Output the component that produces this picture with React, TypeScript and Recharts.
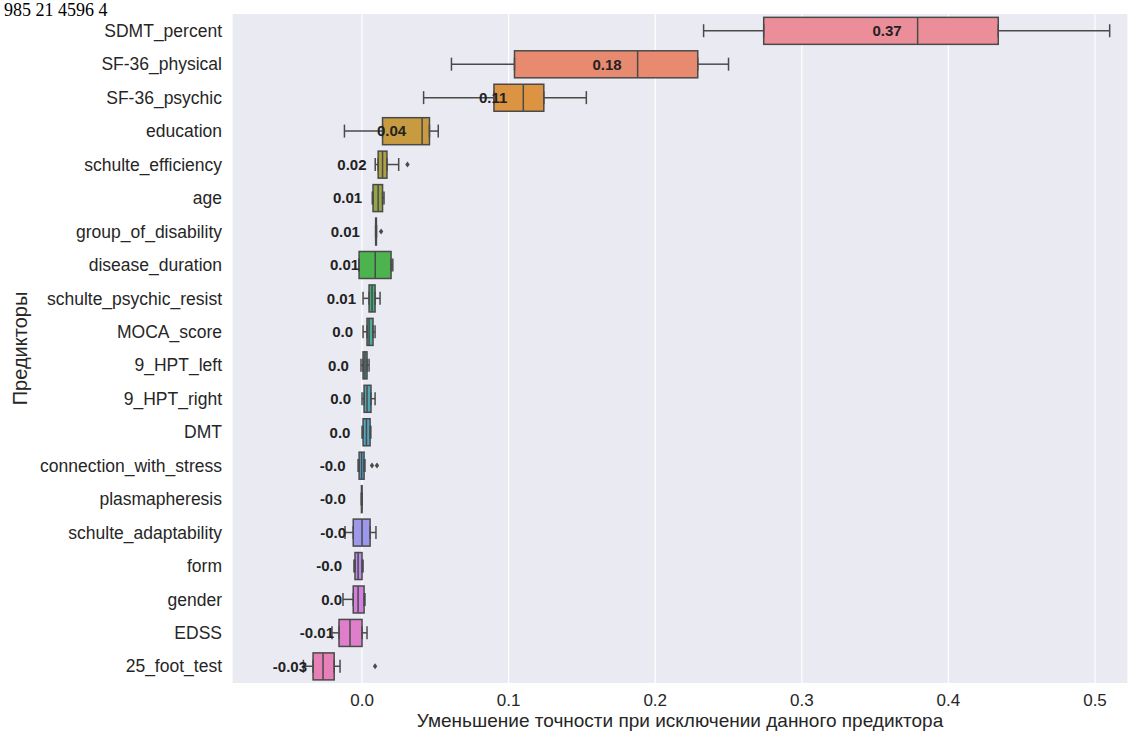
import React from 'react'
import { ComposedChart, Bar, Scatter, ErrorBar, XAxis, YAxis, CartesianGrid } from 'recharts'

// permutation importance, one box per predictor
const categories = [
  'SDMT_percent', 'SF-36_physical', 'SF-36_psychic', 'education', 'schulte_efficiency',
  'age', 'group_of_disability', 'disease_duration', 'schulte_psychic_resist', 'MOCA_score',
  '9_HPT_left', '9_HPT_right', 'DMT', 'connection_with_stress', 'plasmapheresis',
  'schulte_adaptability', 'form', 'gender', 'EDSS', '25_foot_test',
]
const whiskerLow = [
  0.233, 0.061, 0.042, -0.012, 0.009, 0.007, 0.0093, -0.002, 0.0007, 0.0007,
  -0.0007, 0.0, 0.0, -0.0027, -0.0004, -0.0116, -0.0055, -0.013, -0.0205, -0.040,
]
const q1 = [
  0.274, 0.104, 0.090, 0.014, 0.011, 0.0075, 0.0093, -0.002, 0.0048, 0.0034,
  0.0007, 0.0014, 0.0007, -0.002, -0.0004, -0.006, -0.0048, -0.006, -0.0157, -0.0334,
]
const medians = [
  0.379, 0.188, 0.110, 0.041, 0.014, 0.011, 0.0095, 0.009, 0.0068, 0.0048,
  0.002, 0.0034, 0.003, -0.0003, -0.0002, 0.0, -0.0027, -0.0027, -0.0082, -0.0266,
]
const q3 = [
  0.434, 0.229, 0.124, 0.046, 0.017, 0.014, 0.0098, 0.0198, 0.0089, 0.0075,
  0.0034, 0.0061, 0.0055, 0.0014, 0.0, 0.0055, 0.0, 0.0014, 0.0, -0.019,
]
const whiskerHigh = [
  0.510, 0.250, 0.153, 0.052, 0.025, 0.015, 0.0098, 0.021, 0.0123, 0.0089,
  0.0048, 0.0089, 0.006, 0.002, 0.0, 0.0095, 0.0007, 0.002, 0.0034, -0.015,
]
const meanLabels = [
  '0.37', '0.18', '0.11', '0.04', '0.02', '0.01', '0.01', '0.01', '0.01', '0.0',
  '0.0', '0.0', '0.0', '-0.0', '-0.0', '-0.0', '-0.0', '0.0', '-0.01', '-0.03',
]
const outliersA = [
  null, null, null, null, 0.031, null, 0.013, null, null, null,
  null, null, null, 0.0068, null, null, null, null, null, 0.0089,
]
const outliersB = [
  null, null, null, null, null, null, null, null, null, null,
  null, null, null, 0.0102, null, null, null, null, null, null,
]
const xTicks = [0, 0.1, 0.2, 0.3, 0.4, 0.5]

const palette = [
  '#eb8e99', '#e88a6f', '#dc9442', '#c99b40', '#aea142', '#96a547', '#7ba94a', '#4db34f',
  '#4aae7c', '#4cab98', '#4daaa6', '#4ea9b4', '#4fa6c2', '#52a2d3', '#7a9ce6', '#9d98ec',
  '#b98ce8', '#d27fdd', '#df7fcc', '#e680b6',
]

const EDGE = '#4a4a4a'
const FONT = '"Liberation Sans", Arial, sans-serif'

const rows = categories.map((name, i) => ({
  name,
  box: [q1[i], q3[i]],
  q1: q1[i],
  q3: q3[i],
  med: medians[i],
  lowErr: [q1[i] - whiskerLow[i], 0],
  highErr: [0, whiskerHigh[i] - q3[i]],
  label: meanLabels[i],
  outA: outliersA[i],
  outB: outliersB[i],
  color: palette[i],
}))

const BoxShape = (props: any) => {
  const { x, y, width, height, payload } = props
  if (x == null || y == null) return <g />
  const left = Math.min(x, x + width)
  return (
    <rect
      x={left}
      y={y}
      width={Math.max(Math.abs(width), 0.5)}
      height={height}
      fill={payload.color}
      stroke={EDGE}
      strokeWidth={1.5}
    />
  )
}

const Hidden = () => <g />

const MedianShape = (props: any) => {
  const { cx, cy } = props
  if (cx == null || cy == null) return <g />
  return <line x1={cx} x2={cx} y1={cy - 13.4} y2={cy + 13.4} stroke={EDGE} strokeWidth={1.5} />
}

const LabelShape = (props: any) => {
  const { cx, cy, payload } = props
  if (cx == null || cy == null) return <g />
  return (
    <text
      x={cx - 16}
      y={cy}
      dy="0.36em"
      textAnchor="end"
      fontFamily={FONT}
      fontSize={15}
      fontWeight="bold"
      fill="#222"
    >
      {payload.label}
    </text>
  )
}

const OutlierShape = (props: any) => {
  const { cx, cy } = props
  if (cx == null || cy == null || isNaN(cx)) return <g />
  return <path d={`M${cx},${cy - 3} L${cx + 2.2},${cy} L${cx},${cy + 3} L${cx - 2.2},${cy} Z`} fill={EDGE} />
}

const XTitle = (props: any) => {
  const vb = props.viewBox
  return (
    <text x={vb.x + vb.width / 2} y={vb.y + 44} textAnchor="middle" fontFamily={FONT} fontSize={19} fill="#262626">
      Уменьшение точности при исключении данного предиктора
    </text>
  )
}

const YTitle = (props: any) => {
  const vb = props.viewBox
  const cx = vb.x + 27
  const cy = vb.y + vb.height / 2
  return (
    <text
      x={cx}
      y={cy}
      transform={`rotate(-90 ${cx} ${cy})`}
      textAnchor="middle"
      fontFamily={FONT}
      fontSize={20}
      fill="#262626"
    >
      Предикторы
    </text>
  )
}

export default function App() {
  return (
    <div style={{ position: 'absolute', left: 0, top: 0, width: 1140, height: 731, background: '#fff', overflow: 'hidden' }}>
      <div
        style={{
          position: 'absolute', left: 4, top: 0, fontFamily: '"Liberation Serif", serif',
          fontSize: 18, lineHeight: 'normal', color: '#000', zIndex: 2, whiteSpace: 'nowrap',
        }}
      >
        985 21 4596 4
      </div>
      <ComposedChart
        width={1140}
        height={731}
        data={rows}
        layout="vertical"
        margin={{ top: 14, right: 12, bottom: 0, left: 0 }}
        barCategoryGap="10%"
      >
        <CartesianGrid horizontal={false} stroke="#ffffff" strokeWidth={1.2} fill="#eaeaf2" fillOpacity={1} />
        <XAxis
          type="number"
          domain={[-0.0887, 0.5225]}
          ticks={xTicks}
          allowDataOverflow
          height={48}
          axisLine={false}
          tickLine={false}
          tickSize={0}
          tickMargin={11}
          tickFormatter={(v: number) => v.toFixed(1)}
          tick={{ fill: '#262626', fontSize: 17, fontFamily: FONT }}
          label={{ content: XTitle }}
        />
        <YAxis
          type="category"
          dataKey="name"
          width={232}
          allowDuplicatedCategory={false}
          axisLine={false}
          tickLine={false}
          tickSize={0}
          tickMargin={10}
          interval={0}
          tick={{ fill: '#262626', fontSize: 17.5, fontFamily: FONT }}
          label={{ content: YTitle }}
        />
        <Bar dataKey="box" shape={BoxShape} isAnimationActive={false} />
        <Scatter dataKey="q1" shape={Hidden} isAnimationActive={false}>
          <ErrorBar dataKey="lowErr" direction="x" width={6.5} stroke={EDGE} strokeWidth={1.5} isAnimationActive={false} />
        </Scatter>
        <Scatter dataKey="q3" shape={Hidden} isAnimationActive={false}>
          <ErrorBar dataKey="highErr" direction="x" width={6.5} stroke={EDGE} strokeWidth={1.5} isAnimationActive={false} />
        </Scatter>
        <Scatter dataKey="med" shape={MedianShape} isAnimationActive={false} />
        <Scatter dataKey="outA" shape={OutlierShape} isAnimationActive={false} />
        <Scatter dataKey="outB" shape={OutlierShape} isAnimationActive={false} />
        <Scatter dataKey="med" shape={LabelShape} isAnimationActive={false} />
      </ComposedChart>
    </div>
  )
}
